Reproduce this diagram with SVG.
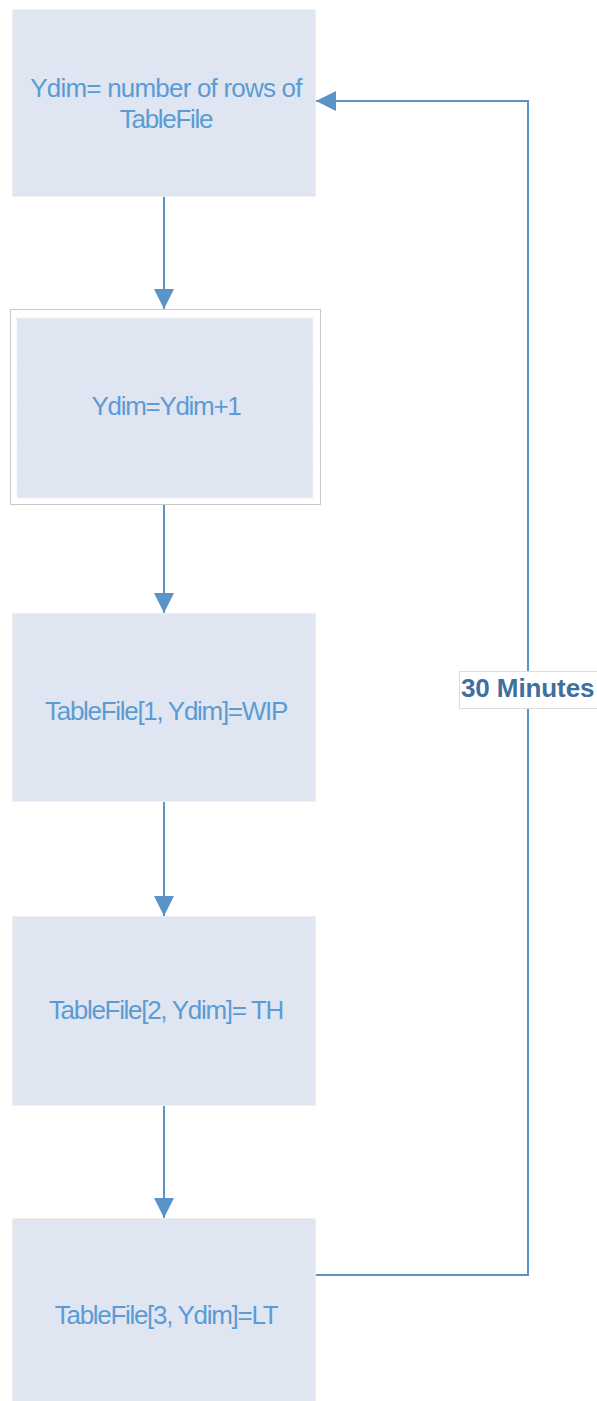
<svg xmlns="http://www.w3.org/2000/svg" width="597" height="1401" viewBox="0 0 597 1401">
  <defs>
    <style>
      .box { fill: #dfe6f2; stroke: #f0f0f0; stroke-width: 1; }
      .t { font-family: "Liberation Sans", Arial, sans-serif; font-size: 26px; fill: #5b9bd5; text-anchor: middle; letter-spacing: -1.3px; }
      .conn { fill: none; stroke: #5a93c9; stroke-width: 2; }
      .lbl { font-family: "Liberation Sans", Arial, sans-serif; font-size: 26px; font-weight: bold; fill: #3f6f9e; letter-spacing: -0.1px; }
    </style>
    <marker id="ah" viewBox="0 0 20 20" refX="20" refY="10" markerWidth="20" markerHeight="20" markerUnits="userSpaceOnUse" orient="auto">
      <path d="M0,0 L20,10 L0,20 Z" fill="#5a93c9"/>
    </marker>
  </defs>
  <rect width="597" height="1401" fill="#ffffff"/>

  <g id="node1">
    <rect class="box" x="12.5" y="9.5" width="303" height="187"/>
    <text class="t" x="166" y="97" style="letter-spacing:-0.8px">Ydim= number of rows of</text>
    <text class="t" x="166" y="128">TableFile</text>
  </g>

  <g id="node2">
    <rect x="10.5" y="309.5" width="310" height="195" fill="#ffffff" stroke="#c8c8c8" stroke-width="1"/>
    <rect x="17" y="318" width="296" height="180" fill="#dfe6f2" stroke="#eef2f8" stroke-width="2" stroke-dasharray="2,3"/>
    <text class="t" x="166" y="415">Ydim=Ydim+1</text>
  </g>

  <g id="node3">
    <rect class="box" x="12.5" y="613.5" width="303" height="188"/>
    <text class="t" x="166" y="720">TableFile[1, Ydim]=WIP</text>
  </g>

  <g id="node4">
    <rect class="box" x="12.5" y="916.5" width="303" height="189"/>
    <text class="t" x="166" y="1019">TableFile[2, Ydim]= TH</text>
  </g>

  <g id="node5">
    <rect class="box" x="12.5" y="1218.5" width="303" height="185"/>
    <text class="t" x="166" y="1324">TableFile[3, Ydim]=LT</text>
  </g>

  <g id="connectors">
    <line class="conn" x1="164" y1="197" x2="164" y2="309" marker-end="url(#ah)"/>
    <line class="conn" x1="164" y1="505" x2="164" y2="613" marker-end="url(#ah)"/>
    <line class="conn" x1="164" y1="802" x2="164" y2="916" marker-end="url(#ah)"/>
    <line class="conn" x1="164" y1="1106" x2="164" y2="1218" marker-end="url(#ah)"/>
    <polyline class="conn" points="316,1275 528,1275 528,101 316,101" marker-end="url(#ah)"/>
    <g id="label">
      <rect x="459.5" y="671.5" width="140" height="37" fill="#ffffff" stroke="#dddddd" stroke-width="1"/>
      <text class="lbl" x="461" y="697">30 Minutes</text>
    </g>
  </g>
</svg>
